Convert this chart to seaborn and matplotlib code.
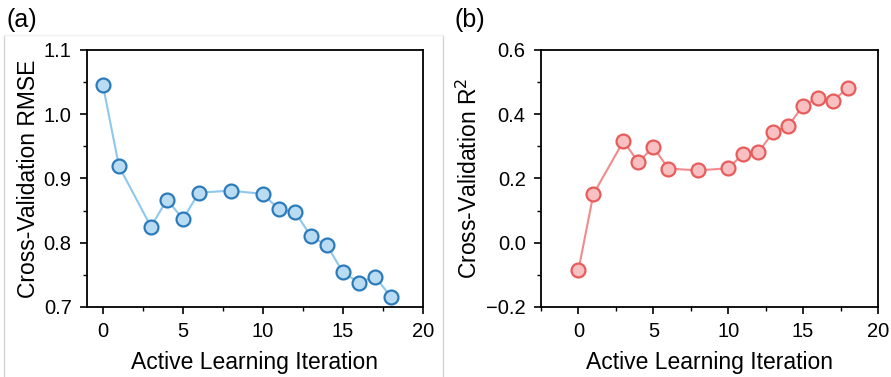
import matplotlib
matplotlib.use("Agg")
import matplotlib.pyplot as plt
from matplotlib.lines import Line2D
from matplotlib.ticker import MultipleLocator
import seaborn as sns
import pandas as pd

iterations = [0, 1, 3, 4, 5, 6, 8, 10, 11, 12, 13, 14, 15, 16, 17, 18]
rmse = [1.045, 0.919, 0.825, 0.867, 0.837, 0.878, 0.881, 0.876, 0.852, 0.848,
        0.810, 0.796, 0.754, 0.738, 0.747, 0.716]
r2 = [-0.085, 0.152, 0.316, 0.251, 0.298, 0.231, 0.225, 0.232, 0.276, 0.281,
      0.344, 0.363, 0.427, 0.451, 0.442, 0.483]

sns.set_theme(style="ticks")
plt.rcParams['font.family'] = ['Liberation Sans', 'DejaVu Sans']
plt.rcParams['text.color'] = 'black'
plt.rcParams['axes.labelcolor'] = 'black'

df = pd.DataFrame({"iter": iterations, "rmse": rmse, "r2": r2})

fig = plt.figure(figsize=(8.91, 3.77), dpi=100)
axA = fig.add_axes([0.0976, 0.1857, 0.3771, 0.6817])
axB = fig.add_axes([0.6072, 0.1857, 0.3782, 0.6817])

# faint frame lines
fig.add_artist(Line2D([4/891, 4/891], [0, 1-35/377], color="#d4d4d4", lw=1))
fig.add_artist(Line2D([443/891, 443/891], [0, 1-35/377], color="#d4d4d4", lw=1))
fig.add_artist(Line2D([4/891, 443/891], [1-35/377, 1-35/377], color="#f2f2f2", lw=1))

def style(ax, line_c, face_c, edge_c, col):
    sns.lineplot(data=df, x="iter", y=col, ax=ax, color=line_c, lw=1.5,
                 marker="o", markersize=10, markerfacecolor=face_c,
                 markeredgecolor=edge_c, markeredgewidth=1.6)
    for s in ax.spines.values():
        s.set_linewidth(1.3)
        s.set_color("black")
    ax.tick_params(which="major", direction="out", length=5, width=1.2,
                   labelsize=14.5, colors="black", pad=6)
    ax.tick_params(which="minor", direction="out", length=3, width=1.0, colors="black")
    ax.xaxis.set_major_locator(MultipleLocator(5))
    ax.xaxis.set_minor_locator(MultipleLocator(2.5))
    ax.set_xlabel("Active Learning Iteration", fontsize=16.5, labelpad=7, color="black")

style(axA, "#8ec8ee", "#b9dcf3", "#2b7bbb", "rmse")
axA.set_xlim(-1, 20)
axA.set_ylim(0.7, 1.1)
axA.yaxis.set_major_locator(MultipleLocator(0.1))
axA.yaxis.set_minor_locator(MultipleLocator(0.05))
axA.yaxis.set_major_formatter(matplotlib.ticker.FormatStrFormatter("%.1f"))
axA.set_ylabel("Cross-Validation RMSE", fontsize=16.5, labelpad=3, color="black")

style(axB, "#f28b8b", "#f8c0c0", "#e85b5b", "r2")
axB.set_xlim(-2.5, 20)
axB.set_ylim(-0.2, 0.6)
axB.yaxis.set_major_locator(MultipleLocator(0.2))
axB.yaxis.set_minor_locator(MultipleLocator(0.1))
axB.yaxis.set_major_formatter(matplotlib.ticker.FuncFormatter(
    lambda v, p: ("\u2212" if v < -1e-9 else "") + f"{abs(v):.1f}"))
axB.set_ylabel("Cross-Validation R$^2$", fontsize=16.5, labelpad=3, color="black")

fig.text(6/891, 1-20/377, "(a)", fontsize=18, va="center", ha="left", color="black")
fig.text(455/891, 1-20/377, "(b)", fontsize=18, va="center", ha="left", color="black")

fig.savefig("out.png", dpi=100)
